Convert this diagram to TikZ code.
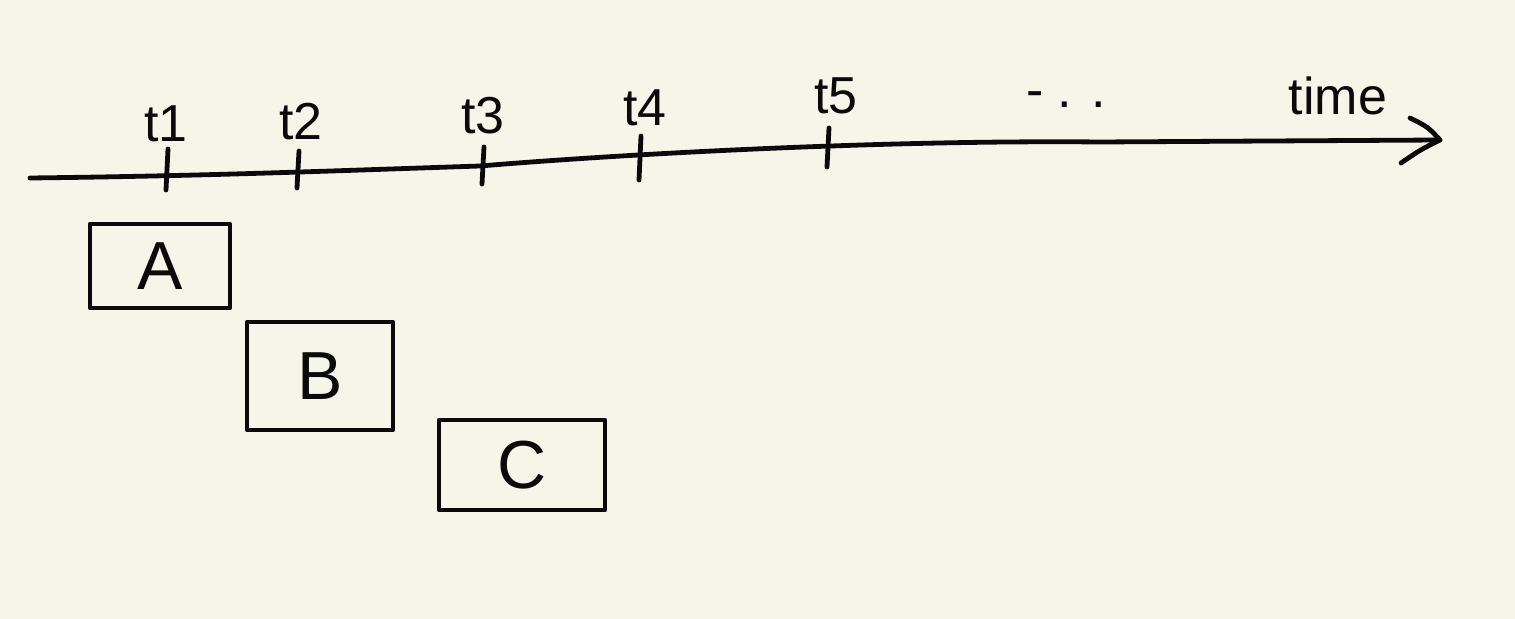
\documentclass[tikz,border=0pt]{standalone}
\usepackage{fontspec}
\setmainfont{Liberation Sans}
\definecolor{paper}{HTML}{F5F5EA}
\definecolor{ink}{HTML}{0A0A0A}
\begin{document}
\begin{tikzpicture}[x=0.5pt,y=-0.5pt,
  pen/.style={draw=ink,line width=2.4pt,line cap=round,line join=round},
  lbl/.style={text=ink,font=\fontsize{26}{28}\selectfont,inner sep=0pt},
  taskbox/.style={pen,rectangle,minimum width=#1,inner sep=0pt,font=\fontsize{34}{36}\selectfont,text=ink},
]
\fill[paper] (0,0) rectangle (1515,619);
\useasboundingbox (0,0) rectangle (1515,619);
% axis
\coordinate (start) at (30,178);
\coordinate (tip) at (1440,140);
\draw[pen] (start) .. controls (200,176) and (300,172) .. (480,166)
  .. controls (650,152) and (900,140) .. (1100,142)
  -- (tip);
\coordinate (ha) at (1410,118);
\coordinate (hb) at (1401,163);
\draw[pen] (ha) .. controls (1428,127) .. (tip) .. controls (1420,150) .. (hb);
% ticks
\foreach \n/\x/\ya/\yb in {1/168/149/190, 2/299/151/188, 3/484/147/184, 4/641/136/180, 5/829/128/167}{
  \coordinate (ta\n) at (\x,\ya);
  \coordinate (tb\n) at (\x-2,\yb);
  \draw[pen] (ta\n) -- (tb\n);
}
% labels
\node[lbl] (l1) at (166,124) {t1};
\node[lbl] (l2) at (301,122) {t2};
\node[lbl] (l3) at (483,116) {t3};
\node[lbl] (l4) at (645,108) {t4};
\node[lbl] (l5) at (836,96) {t5};
\node[lbl] (dots) at (1066,100) {- . .};
\node[lbl] (time) at (1338,96) {time};
% boxes
\node[taskbox=70pt,minimum height=42pt] (A) at (160,266) {A};
\node[taskbox=73pt,minimum height=54pt] (B) at (320,376) {B};
\node[taskbox=83pt,minimum height=45pt] (C) at (522,465) {C};
\end{tikzpicture}
\end{document}
